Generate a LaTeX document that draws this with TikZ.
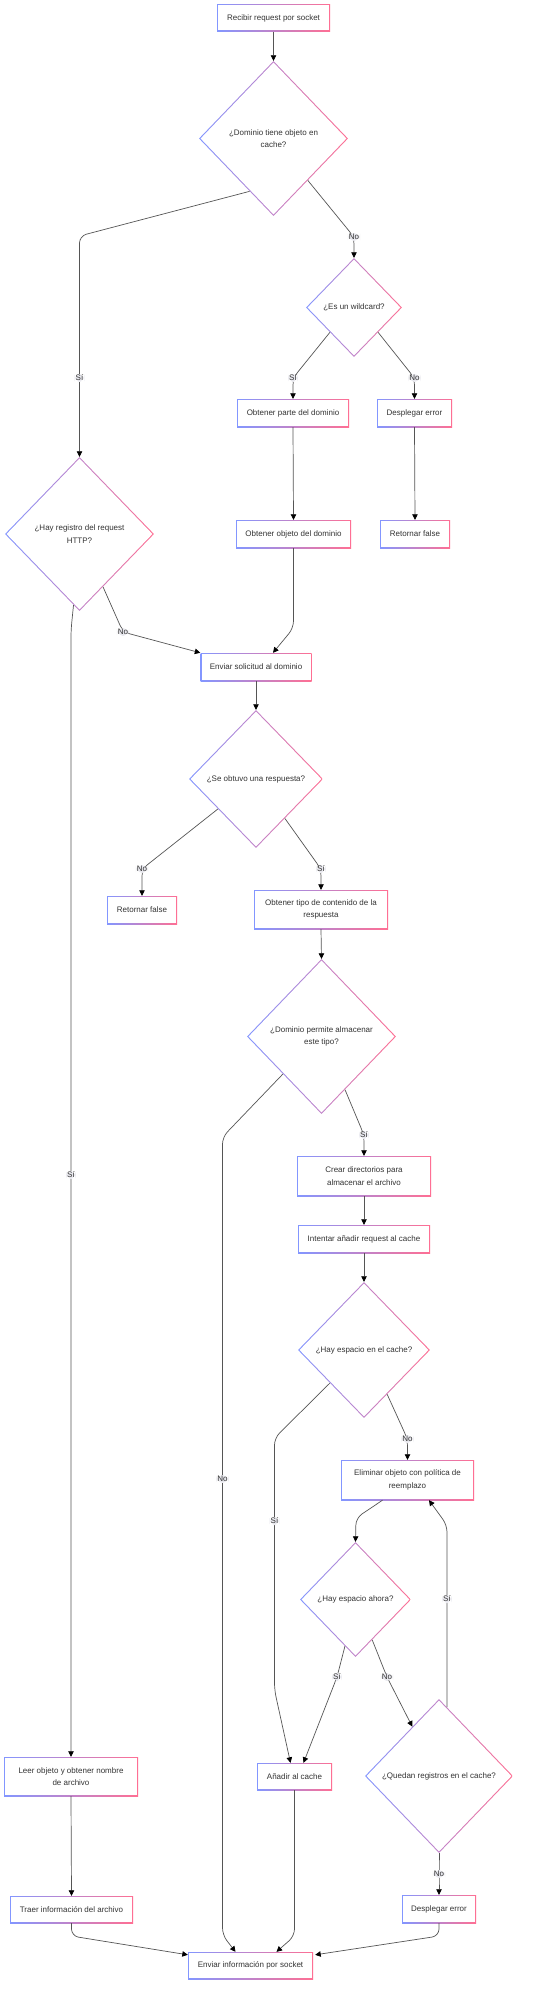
\documentclass[tikz,border=0pt]{standalone}
\usepackage{fontspec}
\setmainfont{Liberation Sans}
\usetikzlibrary{shapes.geometric,arrows.meta,calc}
\definecolor{gblue}{HTML}{8396FF}
\definecolor{gpink}{HTML}{FF6F93}
\definecolor{txt}{HTML}{333333}
\definecolor{edgec}{HTML}{555555}
\definecolor{lblbg}{HTML}{E8E8EE}
\tikzset{
  gbase/.style={draw=none, inner sep=0pt, font=\fontsize{8}{12.5}\selectfont, text=txt, align=center},
  gbox/.style={gbase, rectangle, minimum width=#1,
    path picture={
      \shade[left color=gblue,right color=gpink] (path picture bounding box.south west) rectangle (path picture bounding box.north east);
      \fill[white] ([shift={(1pt,1pt)}]path picture bounding box.south west) rectangle ([shift={(-1pt,-1pt)}]path picture bounding box.north east);}},
  gdia/.style 2 args={gbase, diamond, minimum width=#1, minimum height=#2,
    path picture={
      \shade[left color=gblue,right color=gpink] (path picture bounding box.south west) rectangle (path picture bounding box.north east);
      \fill[white] ([xshift=1.5pt]path picture bounding box.west) -- ([yshift=-1.5pt]path picture bounding box.north) -- ([xshift=-1.5pt]path picture bounding box.east) -- ([yshift=1.5pt]path picture bounding box.south) -- cycle;}},
  edge/.style={draw=edgec, line width=0.7pt, rounded corners=7pt, -{Triangle[length=5.5pt,width=5.5pt,color=black]}},
  lbl/.style={fill=lblbg, inner sep=1pt, font=\fontsize{8}{9}\selectfont, text=txt}
}
\begin{document}
\begin{tikzpicture}[x=1pt,y=-1pt]
\useasboundingbox[fill=white] (0,0) rectangle (542,1999);
% nodes
\node[gbox=113pt, minimum height=27pt] (n1) at (273.5,18) {Recibir request por socket};
\node[gdia={149pt}{155pt}] (d1) at (273.5,138.5) {¿Dominio tiene objeto en\\cache?};
\node[gdia={96pt}{99pt}] (d2) at (354,307.5) {¿Es un wildcard?};
\node[gbox=112pt, minimum height=28pt] (n2) at (293,413) {Obtener parte del dominio};
\node[gbox=75pt, minimum height=28pt] (n3) at (414.5,413) {Desplegar error};
\node[gbox=115pt, minimum height=28pt] (n4) at (293.5,534) {Obtener objeto del dominio};
\node[gbox=70pt, minimum height=28pt] (n5) at (415,534) {Retornar false};
\node[gdia={149pt}{154pt}] (d3) at (79.5,534) {¿Hay registro del request\\HTTP?};
\node[gbox=111pt, minimum height=28pt] (n6) at (256,667) {Enviar solicitud al dominio};
\node[gdia={134pt}{138pt}] (d4) at (256,779) {¿Se obtuvo una respuesta?};
\node[gbox=70pt, minimum height=28pt] (n7) at (142,910) {Retornar false};
\node[gbox=134pt, minimum height=39pt] (n8) at (321,909.5) {Obtener tipo de contenido de la\\respuesta};
\node[gdia={149pt}{155pt}] (d5) at (321.5,1036.5) {¿Dominio permite almacenar\\este tipo?};
\node[gbox=134pt, minimum height=40pt] (n9) at (364,1176) {Crear directorios para\\almacenar el archivo};
\node[gbox=132pt, minimum height=28pt] (n10) at (364,1239) {Intentar añadir request al cache};
\node[gdia={132pt}{136pt}] (d6) at (364,1350) {¿Hay espacio en el cache?};
\node[gbox=133pt, minimum height=40pt] (n11) at (407.5,1480) {Eliminar objeto con política de\\reemplazo};
\node[gdia={111pt}{115pt}] (d7) at (355.5,1599.5) {¿Hay espacio ahora?};
\node[gbox=134pt, minimum height=39pt] (n12) at (71,1776.5) {Leer objeto y obtener nombre\\de archivo};
\node[gbox=75pt, minimum height=27pt] (n13) at (294.5,1776.5) {Añadir al cache};
\node[gdia={148pt}{154pt}] (d8) at (439,1776) {¿Quedan registros en el cache?};
\node[gbox=123pt, minimum height=27pt] (n14) at (71.5,1909.5) {Traer información del archivo};
\node[gbox=74pt, minimum height=28pt] (n15) at (439,1909) {Desplegar error};
\node[gbox=125pt, minimum height=27pt] (n16) at (250.5,1965.5) {Enviar información por socket};
% edges
\draw[edge] (n1.south) -- (d1.north);
\draw[edge] ($(d1.west)!0.68!(d1.south)$) -- (79.5,236) -- (79.5,378) node[lbl] (l1) {Sí} -- (d3.north);
\draw[edge] ($(d1.south)!0.46!(d1.east)$) -- (354,237) node[lbl] (l2) {No} -- (d2.north);
\draw[edge] (d2.south west) -- (293,378) node[lbl] (l3) {Sí} -- (n2.north);
\draw[edge] (d2.south east) -- (414.5,378) node[lbl] (l4) {No} -- (n3.north);
\draw[edge] (n2.south) -- (n4.north);
\draw[edge] (n3.south) -- (n5.north);
\draw[edge] ($(d3.south)!0.315!(d3.east)$) -- (123,632) node[lbl] (l5) {No} -- (n6.north west);
\draw[edge] (n4.south) -- (293.5,628) -- ($(n6.north)+(17,0)$);
\draw[edge] ($(d3.south)!0.08!(d3.west)$) -- (71,630) -- (71,1175) node[lbl] (l6) {Sí} -- (n12.north);
\draw[edge] (n6.south) -- (d4.north);
\draw[edge] ($(d4.south)!0.567!(d4.west)$) -- (142,869) node[lbl] (l7) {No} -- (n7.north);
\draw[edge] ($(d4.south)!0.43!(d4.east)$) -- (321,869) node[lbl] (l8) {Sí} -- (n8.north);
\draw[edge] (n8.south) -- (d5.north);
\draw[edge] ($(d5.south)!0.517!(d5.west)$) -- (222.5,1137) -- (222.5,1479) node[lbl] (l9) {No} -- (222.5,1935) -- ($(n16.north)+(-15,0)$);
\draw[edge] ($(d5.south)!0.315!(d5.east)$) -- (364,1135) node[lbl] (l10) {Sí} -- (n9.north);
\draw[edge] (n9.south) -- (n10.north);
\draw[edge] (n10.south) -- (d6.north);
\draw[edge] ($(d6.south)!0.515!(d6.west)$) -- (274.5,1438) -- (274.5,1521) node[lbl] (l11) {Sí} -- (274.5,1690) -- ($(n13.north)+(-4,0)$);
\draw[edge] ($(d6.south)!0.35!(d6.east)$) -- (407.5,1439) node[lbl] (l12) {No} -- (n11.north);
\draw[edge] ($(n11.south)+(-25,0)$) -- (356,1518) -- (d7.north);
\draw[edge] ($(d7.south)!0.19!(d7.west)$) -- (337,1677) node[lbl] (l13) {Sí} -- ($(n13.north)+(9,0)$);
\draw[edge] ($(d7.south)!0.3!(d7.east)$) -- (387,1677) node[lbl] (l14) {No} -- ($(d8.north)!0.36!(d8.west)$);
\draw[edge] ($(d8.north)!0.108!(d8.east)$) -- (447,1599) node[lbl] (l15) {Sí} -- (447,1525) -- ($(n11.south)+(21.5,0)$);
\draw[edge] (d8.south) -- (439,1874) node[lbl] (l16) {No} -- (n15.north);
\draw[edge] (n12.south) -- (n14.north);
\draw[edge] (n14.south) -- (71.5,1936) -- ($(n16.north west)+(0,3)$);
\draw[edge] (n13.south) -- (294.5,1936) -- ($(n16.north)+(26,0)$);
\draw[edge] (n15.south) -- (439,1936) -- ($(n16.north east)+(2,3)$);
\end{tikzpicture}
\end{document}
